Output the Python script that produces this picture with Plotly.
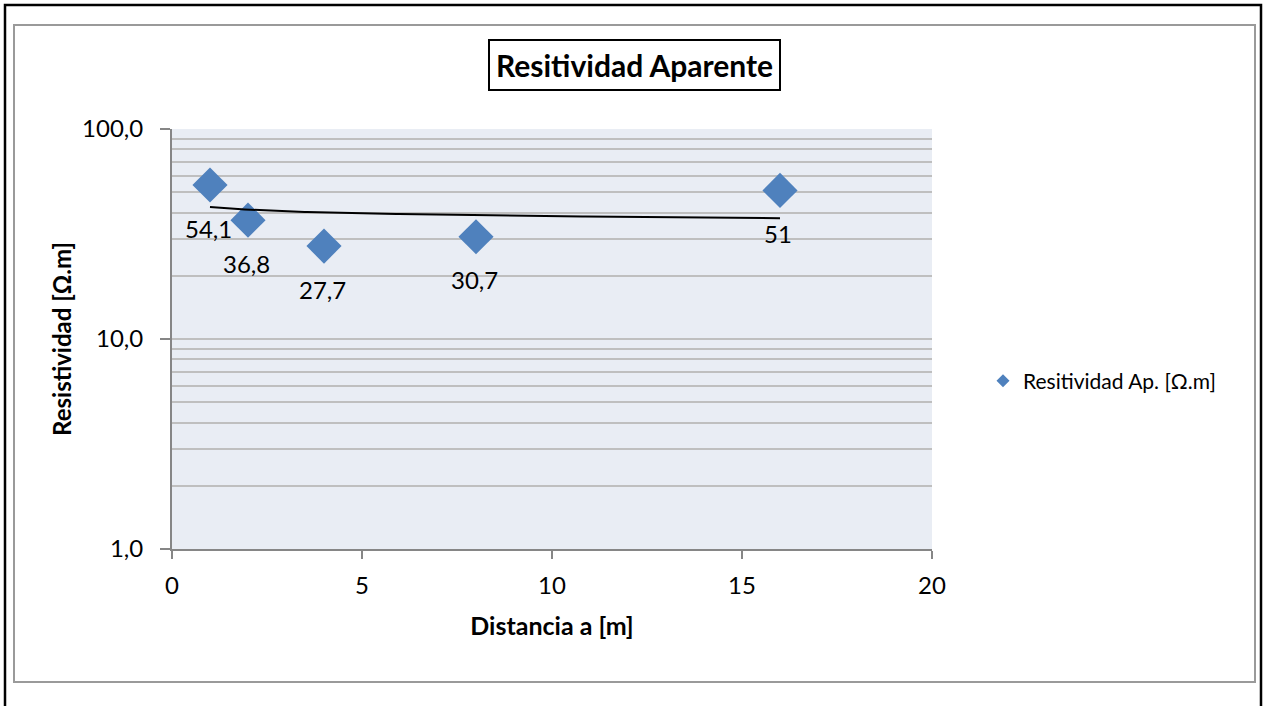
import numpy as np
import plotly.graph_objects as go

# ---- data ----
distancia = [1, 2, 4, 8, 16]
resistividad = [54.1, 36.8, 27.7, 30.7, 51]
etiquetas = ["54,1", "36,8", "27,7", "30,7", "51"]
y_tickvals = [1, 10, 100]
y_ticktext = ["1,0", "10,0", "100,0"]
y_minor = [2, 3, 4, 5, 6, 7, 8, 9, 20, 30, 40, 50, 60, 70, 80, 90]
x_tickvals = [0, 5, 10, 15, 20]

# ---- logarithmic trendline (Excel style: y = a + b ln x) ----
lx = np.log(np.array(distancia, dtype=float))
b, a = np.polyfit(lx, np.array(resistividad), 1)
xt = np.linspace(min(distancia), max(distancia), 200)
yt = a + b * np.log(xt)

W, H = 1263, 706
L, R, T, B = 172, 932, 129, 549
FONT = "Lato"

def px(x):
    return (x - L) / (R - L)

def py(y):
    return (B - y) / (B - T)

fig = go.Figure()
fig.add_trace(go.Scatter(
    x=distancia, y=resistividad, mode="markers",
    marker=dict(symbol="diamond", size=27, color="#4F81BD"),
    showlegend=False, hoverinfo="x+y"))
fig.add_trace(go.Scatter(
    x=xt, y=yt, mode="lines", line=dict(color="black", width=2),
    showlegend=False, hoverinfo="skip"))
fig.add_trace(go.Scatter(
    x=[None], y=[None], mode="markers", name="Resitividad Ap. [Ω.m]",
    marker=dict(symbol="diamond", size=10, color="#4F81BD")))

for xv, yv, t in zip(distancia, resistividad, etiquetas):
    fig.add_annotation(x=xv, y=np.log10(yv), text=t, showarrow=False,
                       yshift=-43, xshift=-2, font=dict(family=FONT, size=24, color="black"))

# title box
fig.add_annotation(x=px(634), y=py(65), xref="paper", yref="paper",
                   xanchor="center", yanchor="middle",
                   text="<b>Resitividad Aparente</b>", showarrow=False,
                   font=dict(family=FONT, size=30, color="black"),
                   bordercolor="black", borderwidth=2, borderpad=6, bgcolor="white")

# borders
fig.add_shape(type="rect", xref="paper", yref="paper",
              x0=px(5), x1=px(1261), y0=py(712), y1=py(5),
              line=dict(color="black", width=2.5), layer="below")
fig.add_shape(type="rect", xref="paper", yref="paper",
              x0=px(14), x1=px(1255), y0=py(682), y1=py(25),
              line=dict(color="#9A9A9A", width=2), layer="below")

fig.update_layout(
    width=W, height=H,
    margin=dict(l=L, r=W - R, t=T, b=H - B),
    paper_bgcolor="white", plot_bgcolor="#E9EDF4",
    font=dict(family=FONT, size=24, color="black"),
    legend=dict(x=px(983), y=py(381), xanchor="left", yanchor="middle",
                font=dict(family=FONT, size=21, color="black"),
                bgcolor="rgba(0,0,0,0)", itemwidth=30),
    xaxis=dict(range=[0, 20], tickvals=x_tickvals, showgrid=False, zeroline=False,
               showline=True, linecolor="#868686", linewidth=2,
               ticks="outside", ticklen=8, tickcolor="#868686", tickwidth=2,
               tickfont=dict(family=FONT, size=24), ticklabelstandoff=6,
               title=dict(text="<b>Distancia a [m]</b>", font=dict(family=FONT, size=25), standoff=20)),
    yaxis=dict(type="log", range=[0, 2], tickvals=y_tickvals, ticktext=y_ticktext,
               showgrid=True, gridcolor="#BFBFBF", gridwidth=2, zeroline=False,
               showline=True, linecolor="#868686", linewidth=2,
               ticks="outside", ticklen=10, tickcolor="#868686", tickwidth=2,
               tickfont=dict(family=FONT, size=24), ticklabelstandoff=12,
               minor=dict(tickmode="array", tickvals=y_minor, showgrid=True,
                          gridcolor="#BFBFBF", gridwidth=2, ticks=""),
               title=dict(text="<b>Resistividad [Ω.m]</b>", font=dict(family=FONT, size=24), standoff=4)),
)

fig.write_html("out.html", config={"displayModeBar": False},
               post_script="document.body.style.margin='0';document.body.style.overflow='hidden';")
